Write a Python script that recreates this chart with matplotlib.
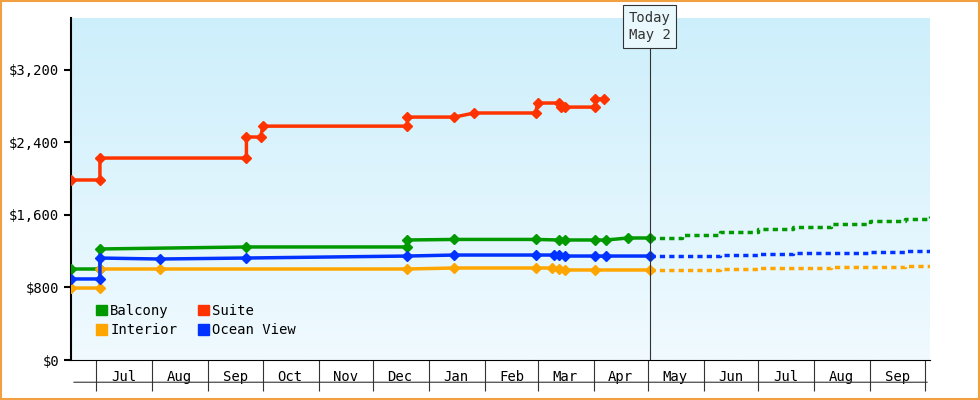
import matplotlib
matplotlib.use("Agg")
import matplotlib.pyplot as plt
import matplotlib.dates as mdates
import numpy as np
import pandas as pd

plt.rcParams["font.family"] = "DejaVu Sans Mono"

suite_dates = ["2023-06-17","2023-07-03","2023-07-03","2023-09-22","2023-09-22","2023-09-30","2023-10-01","2023-12-20","2023-12-20","2024-01-15","2024-01-26","2024-02-29","2024-03-01","2024-03-13","2024-03-14","2024-03-16","2024-04-02","2024-04-02","2024-04-07"]
suite_vals = [1986,1986,2228,2228,2460,2460,2580,2580,2680,2680,2725,2725,2835,2835,2790,2790,2790,2880,2880]
balcony_dates = ["2023-06-17","2023-07-03","2023-07-03","2023-09-22","2023-12-20","2023-12-20","2024-01-15","2024-02-29","2024-03-13","2024-03-16","2024-04-02","2024-04-08","2024-04-20","2024-05-02"]
balcony_vals = [1004,1004,1225,1247,1247,1324,1330,1330,1324,1324,1324,1324,1346,1346]
interior_dates = ["2023-06-17","2023-07-03","2023-07-03","2023-08-05","2023-12-20","2024-01-15","2024-02-29","2024-03-09","2024-03-13","2024-03-16","2024-04-02","2024-05-02"]
interior_vals = [794,794,1004,1004,1004,1015,1015,1015,1004,993,993,993]
ocean_dates = ["2023-06-17","2023-07-03","2023-07-03","2023-08-05","2023-09-22","2023-12-20","2024-01-15","2024-02-29","2024-03-10","2024-03-13","2024-03-16","2024-04-02","2024-04-08","2024-05-02"]
ocean_vals = [894,894,1125,1114,1125,1147,1158,1158,1158,1158,1147,1147,1147,1147]

fc_dates = ["2024-05-02","2024-05-20","2024-06-10","2024-07-01","2024-07-20","2024-08-10","2024-09-01","2024-09-20","2024-10-04"]
fc_balcony = [1346,1380,1410,1440,1470,1500,1530,1560,1590]
fc_ocean = [1147,1150,1160,1165,1175,1180,1190,1205,1210]
fc_interior = [993,995,1005,1010,1015,1025,1030,1035,1040]

C = {"Balcony":"#009900","Suite":"#ff3300","Interior":"#ffa500","Ocean View":"#0033ff"}

fig = plt.figure(figsize=(9.8,4.0), dpi=100)
fig.patch.set_facecolor("white")
fig.patches.append(plt.Rectangle((0.001,0.002),0.998,0.995,transform=fig.transFigure,fill=False,edgecolor="#f0a040",lw=1.5))
ax = fig.add_axes([71/980, 40/400, (930-71)/980, (382-40)/400])
ax.set_facecolor("none")
ax.set_xlim(pd.Timestamp("2023-06-17"), pd.Timestamp("2024-10-04"))
ax.set_ylim(0, 3773)
# gradient
grad = np.linspace(0,1,256).reshape(-1,1)
cmap = matplotlib.colors.LinearSegmentedColormap.from_list("g", ["#f0faff","#cdeffb"])
ax.imshow(grad, aspect="auto", cmap=cmap, origin="lower", extent=[*ax.get_xlim(), 0, 3773], zorder=0)

def td(l): return pd.to_datetime(l)
kw = dict(lw=2.5, marker="D", ms=5.5, zorder=3)
ax.plot(td(suite_dates), suite_vals, color=C["Suite"], **kw)
ax.plot(td(balcony_dates), balcony_vals, color=C["Balcony"], **kw)
ax.plot(td(interior_dates), interior_vals, color=C["Interior"], **kw)
ax.plot(td(ocean_dates), ocean_vals, color=C["Ocean View"], **kw)
for v, c in [(fc_balcony,"Balcony"),(fc_ocean,"Ocean View"),(fc_interior,"Interior")]:
    ax.plot(td(fc_dates), v, color=C[c], lw=2.5, ls=(0,(1.5,1.2)), drawstyle="steps-post", zorder=3)

today = pd.Timestamp("2024-05-02")
ax.axvline(today, color="#333333", lw=0.8, zorder=4)
ax.text(today, 3680, "Today\nMay 2", ha="center", va="center", fontsize=10, color="#333",
        bbox=dict(boxstyle="square,pad=0.4", fc="#e8f8fc", ec="#333", lw=0.8), zorder=5, linespacing=1.3)

ax.set_yticks([0,800,1600,2400,3200])
ax.set_yticklabels(["$0","$800","$1,600","$2,400","$3,200"], fontsize=10)
ax.tick_params(axis="y", length=5, width=1.5)
months = pd.date_range("2023-07-01","2024-10-01",freq="MS")
ax.set_xticks(months)
ax.set_xticklabels([])
ax.tick_params(axis="x", which="major", length=22, width=0.8, direction="out", color="#333")
mids = months[:-1] + pd.Timedelta(days=15)
ax.set_xticks(mids, minor=True)
ax.set_xticklabels([m.strftime("%b") for m in months[:-1]], minor=True, fontsize=10)
ax.tick_params(axis="x", which="minor", length=0, pad=7)
for s in ["top","right"]:
    ax.spines[s].set_visible(False)
ax.spines["left"].set_linewidth(1.5)
ax.spines["bottom"].set_linewidth(0.8)
ax.annotate("", xy=(1,-0.065), xytext=(0,-0.065), xycoords="axes fraction",
            arrowprops=dict(arrowstyle="-", color="#333", lw=0.8), annotation_clip=False)

from matplotlib.patches import Patch
handles = [Patch(color=C[k]) for k in ["Balcony","Interior","Suite","Ocean View"]]
ax.legend(handles, ["Balcony","Interior","Suite","Ocean View"], ncol=2, loc="lower left",
          bbox_to_anchor=(0.015,0.03), frameon=False, fontsize=10, handlelength=0.8, handleheight=0.8,
          handletextpad=0.2, columnspacing=1.5, labelspacing=0.4)
fig.savefig("out.png", dpi=100)
